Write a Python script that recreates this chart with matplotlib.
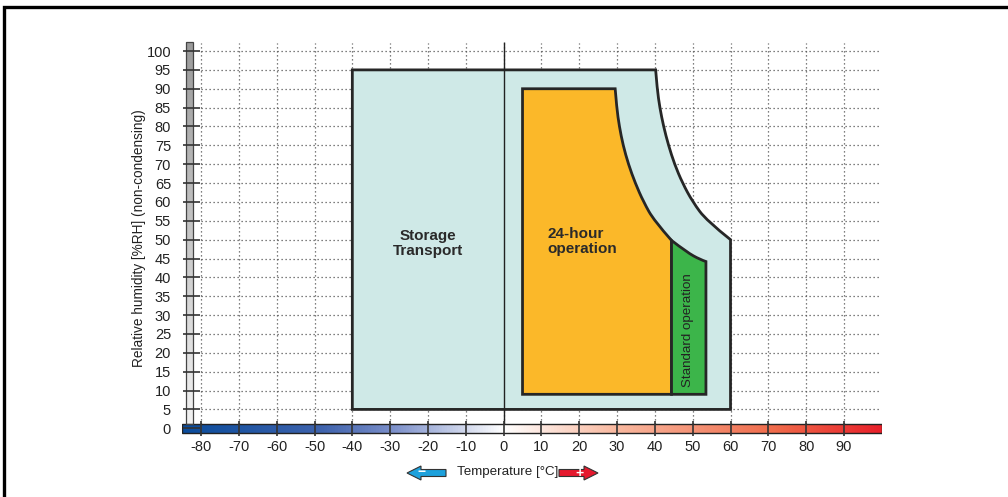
import matplotlib
matplotlib.use("Agg")
import matplotlib.pyplot as plt
import numpy as np
from matplotlib.colors import LinearSegmentedColormap
from matplotlib.patches import Polygon, Rectangle, PathPatch
from matplotlib.path import Path

plt.rcParams['font.family'] = ['Liberation Sans', 'DejaVu Sans']

# --- data ---
temp_ticks = [-80, -70, -60, -50, -40, -30, -20, -10, 0, 10, 20, 30, 40, 50, 60, 70, 80, 90]
rh_ticks = [0, 5, 10, 15, 20, 25, 30, 35, 40, 45, 50, 55, 60, 65, 70, 75, 80, 85, 90, 95, 100]

# storage / transport envelope: straight part, then curved edge (top right -> right)
storage_t = [60, -40, -40, 40.2]
storage_rh = [5, 5, 95, 95]
storage_curve_t = [40.2, 40.6, 41.3, 42.3, 43.6, 45.2, 47.3, 50.0, 53.7, 60]
storage_curve_rh = [95, 90, 85, 80, 75, 70, 65, 60, 55, 50]

# 24-hour operation
op24_t = [44.4, 5, 5, 29.5]
op24_rh = [9, 9, 90, 90]
op24_curve_t = [29.5, 29.9, 30.6, 31.6, 33.0, 34.8, 37.0, 39.8, 44.4]
op24_curve_rh = [90, 85, 80, 75, 70, 65, 60, 55, 49.8]

# standard operation
std_t = [53.5, 44.4, 44.4]
std_rh = [9, 9, 49.8]
std_curve_t = [44.4, 48.4, 52.0, 53.5]
std_curve_rh = [49.8, 46.7, 44.7, 44.2]

xmin, xmax = -85, 100
ymin, ymax = -2, 103


def region_path(line_t, line_rh, curve_t, curve_rh):
    # straight edges first, then a smooth quadratic curve through the curve points
    verts = list(zip(line_t, line_rh))
    codes = [Path.MOVETO] + [Path.LINETO] * (len(verts) - 1)
    pts = list(zip(curve_t, curve_rh))
    for i in range(1, len(pts) - 1):
        if i < len(pts) - 2:
            end = ((pts[i][0] + pts[i + 1][0]) / 2, (pts[i][1] + pts[i + 1][1]) / 2)
        else:
            end = pts[i + 1]
        verts += [pts[i], end]
        codes += [Path.CURVE3, Path.CURVE3]
    verts.append(verts[0])
    codes.append(Path.CLOSEPOLY)
    return Path(verts, codes)


fig = plt.figure(figsize=(10.08, 4.97), dpi=100)
ax = fig.add_axes([0.1807, 0.1231, 0.6941, 0.797])
ax.set_xlim(xmin, xmax)
ax.set_ylim(ymin, ymax)
for s in ax.spines.values():
    s.set_visible(False)

dot = (0, (1, 2.2))
# grid
ax.hlines(rh_ticks[1:], -80, 99.5, colors='#555555', linestyles=dot, lw=0.9, zorder=1)
ax.vlines(temp_ticks, 0, 102, colors='#555555', linestyles=dot, lw=0.9, zorder=1)

# regions
ax.add_patch(PathPatch(region_path(storage_t, storage_rh, storage_curve_t, storage_curve_rh),
                       facecolor='#cfe9e7', edgecolor='#262626', lw=2.0, joinstyle='miter', zorder=3))
ax.add_patch(PathPatch(region_path(op24_t, op24_rh, op24_curve_t, op24_curve_rh),
                       facecolor='#fbb829', edgecolor='#262626', lw=2.0, joinstyle='miter', zorder=4))
ax.add_patch(PathPatch(region_path(std_t, std_rh, std_curve_t, std_curve_rh),
                       facecolor='#3cb54a', edgecolor='#262626', lw=2.0, joinstyle='miter', zorder=4))

# 0 degC line
ax.vlines([0], -1.2, 102.3, colors='#222222', lw=1.0, zorder=3.5)

# temperature colour bar
cmap_t = LinearSegmentedColormap.from_list('temp', [
    (0.0, '#0a4c9c'), (0.2, '#3f63ad'), (0.3, '#7b8fca'), (0.459, '#ffffff'),
    (0.62, '#f9b9a0'), (0.85, '#f06a4a'), (1.0, '#e8202a')])
grad = np.linspace(0, 1, 512).reshape(1, -1)
ax.imshow(grad, extent=(xmin, xmax, -1.2, 1.1), cmap=cmap_t, aspect='auto', zorder=5)
ax.add_patch(Rectangle((xmin, -1.2), xmax - xmin, 2.3, fill=False, ec='#222222', lw=1.0, zorder=6))

# humidity bar
cmap_h = LinearSegmentedColormap.from_list('hum', ['#f2f2f2', '#9a9a9a'])
vgrad = np.linspace(0, 1, 256).reshape(-1, 1)
ax.imshow(vgrad, extent=(-84, -82.2, 1.1, 102.3), origin='lower', cmap=cmap_h, aspect='auto', zorder=5)
ax.add_patch(Rectangle((-84, 1.1), 1.8, 101.2, fill=False, ec='#444444', lw=0.9, zorder=6))

# tick marks
ax.hlines(rh_ticks, -84.7, -80.4, colors='#333333', lw=1.2, zorder=7)
ax.vlines(temp_ticks, -2.0, 1.9, colors='#333333', lw=1.2, zorder=7)

ax.set_xlim(xmin, xmax)
ax.set_ylim(ymin, ymax)

ax.set_xticks(temp_ticks)
ax.set_xticklabels([str(t) for t in temp_ticks])
ax.set_yticks(rh_ticks)
ax.set_yticklabels([str(r) for r in rh_ticks])
ax.tick_params(length=0, labelsize=10.5, colors='#222222')
ax.tick_params(axis='y', pad=8)
ax.tick_params(axis='x', pad=3)

ax.set_ylabel('Relative humidity [%RH] (non-condensing)', fontsize=9.8, color='#222222', labelpad=0)

ax.text(-20, 49, 'Storage\nTransport', ha='center', va='center', fontsize=11,
        fontweight='bold', color='#2a2a2a', linespacing=1.15, zorder=8)
ax.text(11.5, 49.5, '24-hour\noperation', ha='left', va='center', fontsize=11,
        fontweight='bold', color='#2a2a2a', linespacing=1.15, zorder=8)
ax.text(48.7, 26, 'Standard operation', ha='center', va='center', rotation=90, fontsize=9.6,
        color='#222222', zorder=8)

# overlay for frame, x label and arrows (pixel coordinates)
ov = fig.add_axes([0, 0, 1, 1], zorder=-1)
ov.set_xlim(0, 1008)
ov.set_ylim(497, 0)
ov.axis('off')
ov.plot([4, 4, 1008], [497, 7, 7], color='black', lw=2.4, solid_joinstyle='miter')
ov.text(507.5, 472, 'Temperature [°C]', ha='center', va='center', fontsize=9.6, color='#222222')

blue_arrow = [(407, 473), (421, 466), (421, 469.5), (446, 469.5), (446, 476.5), (421, 476.5), (421, 480)]
red_arrow = [(598, 473), (584, 466), (584, 469.5), (559, 469.5), (559, 476.5), (584, 476.5), (584, 480)]
ov.add_patch(Polygon(blue_arrow, closed=True, fc='#1da1dc', ec='#333333', lw=0.8))
ov.add_patch(Polygon(red_arrow, closed=True, fc='#e5192e', ec='#333333', lw=0.8))
ov.text(422, 472.5, '−', ha='center', va='center', color='white', fontsize=10, fontweight='bold')
ov.text(580, 472.5, '+', ha='center', va='center', color='white', fontsize=10, fontweight='bold')

fig.savefig('out.png', dpi=100)
